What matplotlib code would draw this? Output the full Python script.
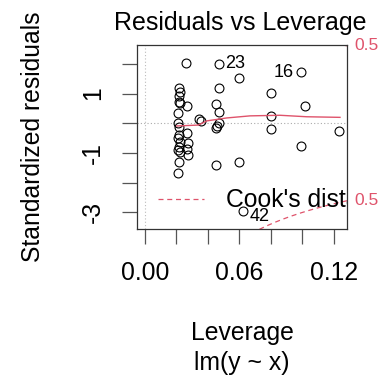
import numpy as np
import matplotlib
matplotlib.use("Agg")
import matplotlib.pyplot as plt
from matplotlib.lines import Line2D
from matplotlib.transforms import blended_transform_factory

plt.rcParams["font.family"] = ["Liberation Sans", "DejaVu Sans"]

# leverage and standardized residuals of the fitted model
leverage = [0.0220, 0.0222, 0.0218, 0.0215, 0.0222, 0.0212, 0.0213, 0.0215,
            0.0220, 0.0212, 0.0222, 0.0215, 0.0212, 0.0222, 0.0215, 0.0210,
            0.0262, 0.0270, 0.0266, 0.0275, 0.0270, 0.0275,
            0.0345, 0.0358,
            0.0473, 0.0471, 0.0454, 0.0473, 0.0471, 0.0460, 0.0454, 0.0454,
            0.0600, 0.0600, 0.0625,
            0.0800, 0.0803, 0.0803,
            0.0989, 0.0989, 0.1016,
            0.1234]
std_resid = [1.18, 1.06, 0.92, 0.73, 0.67, 0.34, 0.00, -0.11,
             -0.39, -0.51, -0.62, -0.79, -0.90, -0.96, -1.29, -1.68,
             2.04, 0.57, -0.32, -0.67, -0.86, -1.07,
             0.13, 0.07,
             2.00, 1.18, 0.65, 0.37, 0.00, -0.08, -0.17, -1.39,
             1.52, -1.31, -2.94,
             1.03, 0.25, -0.20,
             1.72, -0.76, 0.57,
             -0.25]

# labelled observations: id, leverage, residual
label_ids = ["23", "16", "42"]
label_lev = [0.0473, 0.0989, 0.0625]
label_res = [2.00, 1.72, -2.94]

# lowess smoother through the points
smooth_x = [0.0203, 0.0340, 0.0393, 0.0520, 0.0668, 0.0858, 0.1027, 0.1238]
smooth_y = [-0.09, -0.06, 0.08, 0.18, 0.25, 0.27, 0.22, 0.20]

n_params = 2
cook_level = 0.5

red = "#DF536B"
xlim = (-0.00488, 0.12824)
ylim = (-3.559, 2.636)

fig = plt.figure(figsize=(3.9, 3.77), dpi=100)
ax = fig.add_axes([137 / 390, 1 - 229 / 377, 210 / 390, 184 / 377])

ax.axhline(0, color="#aaaaaa", ls=(0, (1, 2)), lw=0.8, zorder=0)
ax.axvline(0, color="#bbbbbb", ls=(0, (1, 2)), lw=0.8, zorder=0)

ax.plot(leverage, std_resid, "o", mfc="none", mec="black", ms=6.4, mew=0.8)
ax.plot(smooth_x, smooth_y, color=red, lw=1.0)

# Cook's distance contours
h = np.linspace(0.005, xlim[1], 200)
cook = np.sqrt(cook_level * n_params * (1 - h) / h)
ax.plot(h, cook, color=red, ls=(0, (4, 3)), lw=0.9)
ax.plot(h, -cook, color=red, ls=(0, (4, 3)), lw=0.9)

edge = np.sqrt(cook_level * n_params * (1 - xlim[1]) / xlim[1])
trans = blended_transform_factory(ax.transAxes, ax.transData)
for yv in (edge, -edge):
    ax.text(1.035, yv, "0.5", color=red, fontsize=12.5, ha="left",
            va="center", transform=trans, clip_on=False)

# point ids
offsets = {"23": (4.5, 0, "left"), "16": (-5, 0, "right"), "42": (4.5, -4, "left")}
for lab, lx, ly in zip(label_ids, label_lev, label_res):
    dx, dy, ha = offsets[lab]
    ax.annotate(lab, (lx, ly), xytext=(dx, dy), textcoords="offset points",
                ha=ha, va="center", fontsize=13)

ax.set_xlim(*xlim)
ax.set_ylim(*ylim)

ax.set_xticks(np.arange(0, 0.121, 0.02))
ax.set_xticklabels(["0.00", "", "", "0.06", "", "", "0.12"])
ax.set_yticks([-3, -2, -1, 0, 1, 2])
ax.set_yticklabels(["-3", "", "-1", "", "1", ""], rotation=90, va="center")
ax.tick_params(length=11, width=0.9, color="#555555", labelsize=17.8)
ax.tick_params(axis="x", pad=12)
ax.tick_params(axis="y", pad=12)

for sp in ax.spines.values():
    sp.set_color("#333333")
    sp.set_linewidth(0.9)

leg_handle = Line2D([], [], color=red, ls=(0, (4, 3)), lw=0.9)
leg = ax.legend([leg_handle], ["Cook's distance"], loc="center left",
                bbox_to_anchor=(0.1, 0.155), frameon=False, fontsize=17.8,
                handlelength=1.85, handletextpad=0.9, borderpad=0,
                borderaxespad=0)
for t in leg.get_texts():
    t.set_clip_path(ax.patch)

fig.text(240 / 390, 1 - 23 / 377, "Residuals vs Leverage", ha="center",
         va="center", fontsize=18)
fig.text(242 / 390, 1 - 333 / 377, "Leverage", ha="center", va="center",
         fontsize=17.8)
fig.text(242 / 390, 1 - 363 / 377, "lm(y ~ x)", ha="center", va="center",
         fontsize=17.8)
fig.text(33 / 390, 1 - 137 / 377, "Standardized residuals", ha="center",
         va="center", rotation=90, fontsize=17.8)

fig.savefig("out.png", dpi=100)
